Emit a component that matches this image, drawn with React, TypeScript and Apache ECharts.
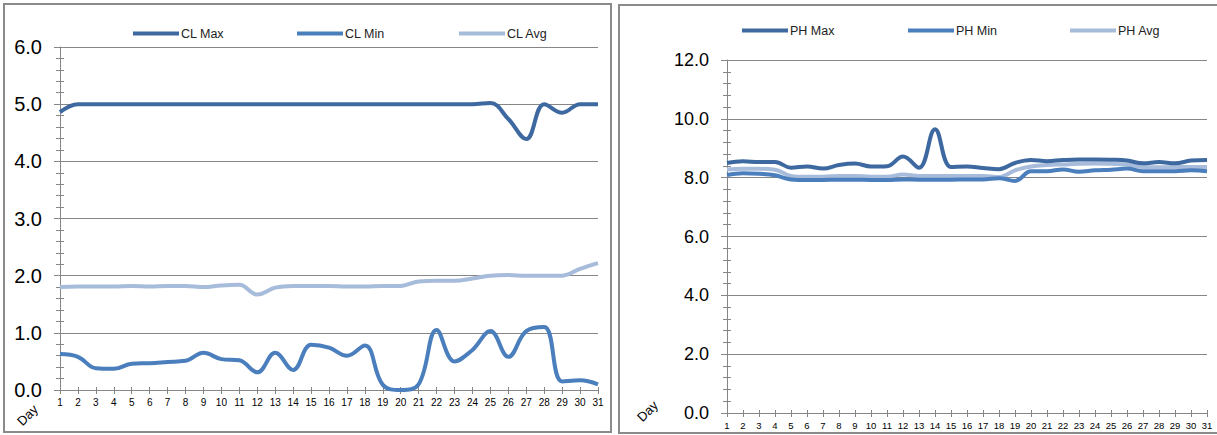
import React, { useEffect, useRef } from "react";
import * as echarts from "echarts";

const days = Array.from({ length: 31 }, (_, i) => String(i + 1));

const clMax = [4.86, 5.0, 5.0, 5.0, 5.0, 5.0, 5.0, 5.0, 5.0, 5.0, 5.0, 5.0, 5.0, 5.0, 5.0, 5.0, 5.0, 5.0, 5.0, 5.0, 5.0, 5.0, 5.0, 5.0, 5.02, 4.74, 4.39, 5.0, 4.85, 5.0, 5.0];
const clMin = [0.63, 0.58, 0.38, 0.37, 0.46, 0.47, 0.49, 0.51, 0.65, 0.54, 0.52, 0.31, 0.65, 0.35, 0.79, 0.74, 0.6, 0.78, 0.09, 0.0, 0.1, 1.05, 0.5, 0.7, 1.03, 0.58, 1.03, 1.1, 0.15, 0.17, 0.1];
const clAvg = [1.8, 1.81, 1.81, 1.81, 1.82, 1.81, 1.82, 1.82, 1.8, 1.83, 1.84, 1.67, 1.79, 1.82, 1.82, 1.82, 1.81, 1.81, 1.82, 1.82, 1.9, 1.91, 1.91, 1.95, 2.0, 2.01, 2.0, 2.0, 2.0, 2.12, 2.22];

const phMax = [8.5, 8.56, 8.53, 8.53, 8.34, 8.38, 8.31, 8.43, 8.48, 8.38, 8.39, 8.72, 8.34, 9.65, 8.36, 8.38, 8.33, 8.29, 8.5, 8.6, 8.56, 8.6, 8.62, 8.62, 8.61, 8.58, 8.49, 8.53, 8.49, 8.58, 8.6];
const phMin = [8.09, 8.15, 8.13, 8.08, 7.94, 7.92, 7.92, 7.93, 7.93, 7.92, 7.92, 7.94, 7.93, 7.93, 7.93, 7.94, 7.94, 7.98, 7.89, 8.22, 8.22, 8.28, 8.2, 8.25, 8.27, 8.31, 8.22, 8.22, 8.22, 8.25, 8.22];
const phAvg = [8.28, 8.3, 8.3, 8.27, 8.06, 8.03, 8.03, 8.06, 8.06, 8.03, 8.03, 8.11, 8.06, 8.06, 8.06, 8.06, 8.06, 8.02, 8.25, 8.38, 8.43, 8.45, 8.47, 8.48, 8.47, 8.45, 8.36, 8.35, 8.36, 8.36, 8.36];

const C_MAX = "#3D69A0";
const C_MIN = "#4A7EBC";
const C_AVG = "#A7BBDA";
const AXIS = "#868686";
const FONT = "Liberation Sans";

function xAxes(grid: number, fontSize: number) {
  return [
    {
      type: "category",
      gridIndex: grid,
      data: days,
      boundaryGap: false,
      axisLine: { lineStyle: { color: AXIS, width: 1 } },
      axisTick: { show: true, length: 4, interval: 0, lineStyle: { color: AXIS } },
      axisLabel: { interval: 0, fontSize, fontFamily: FONT, color: "#000", margin: 7 },
      splitLine: { show: false },
    },
    {
      type: "category",
      gridIndex: grid,
      position: "bottom",
      data: days,
      boundaryGap: false,
      axisLine: { show: false },
      axisTick: { show: true, inside: true, length: 3, interval: 0, lineStyle: { color: AXIS } },
      axisLabel: { show: false },
      splitLine: { show: false },
    },
  ];
}

function yAxes(grid: number, max: number, interval: number, fontSize: number) {
  return [
    {
      type: "value",
      gridIndex: grid,
      min: 0,
      max,
      interval,
      axisLine: { show: true, lineStyle: { color: AXIS, width: 1 } },
      axisTick: { show: true, length: 6, lineStyle: { color: AXIS } },
      minorTick: { show: true, splitNumber: 5, length: 4, lineStyle: { color: AXIS } },
      axisLabel: { fontSize, fontFamily: FONT, color: "#000", margin: 18, formatter: (v: number) => v.toFixed(1) },
      splitLine: { show: true, lineStyle: { color: AXIS, width: 1 } },
    },
    {
      type: "value",
      gridIndex: grid,
      position: "left",
      min: 0,
      max,
      interval,
      axisLine: { show: false },
      axisTick: { show: true, inside: true, length: 4, lineStyle: { color: AXIS } },
      minorTick: { show: true, splitNumber: 5, length: 4, lineStyle: { color: AXIS } },
      axisLabel: { show: false },
      splitLine: { show: false },
    },
  ];
}

function line(name: string, data: number[], color: string, xi: number, yi: number) {
  return {
    name,
    type: "line",
    data,
    xAxisIndex: xi,
    yAxisIndex: yi,
    smooth: 0.4,
    showSymbol: false,
    symbol: "none",
    lineStyle: { color, width: 4 },
    itemStyle: { color },
  };
}

function legend(name: string, left: number, top: number) {
  return {
    data: [name],
    left,
    top,
    icon: "rect",
    itemWidth: 46,
    itemHeight: 4,
    itemGap: 0,
    textStyle: { fontSize: 12.5, fontFamily: FONT, color: "#222", padding: [0, 0, 0, -3] },
    padding: 0,
  };
}

function dayLabel(x: number, y: number) {
  return {
    type: "text",
    x,
    y,
    rotation: Math.PI / 4,
    style: { text: "Day", fontSize: 13, fontFamily: FONT, fill: "#000", align: "left", verticalAlign: "bottom" },
  };
}

export default function App() {
  const ref = useRef<HTMLDivElement>(null);
  useEffect(() => {
    if (!ref.current) return;
    const chart = echarts.init(ref.current, undefined, { renderer: "svg" });
    chart.setOption({
      animation: false,
      backgroundColor: "#fff",
      grid: [
        { left: 60, top: 47, right: 1217 - 598, bottom: 435 - 390 },
        { left: 727, top: 60, right: 1217 - 1207, bottom: 435 - 413 },
      ],
      xAxis: [...xAxes(0, 10), ...xAxes(1, 9.5)],
      yAxis: [...yAxes(0, 6, 1, 20), ...yAxes(1, 12, 2, 18)],
      legend: [
        legend("CL Max", 133, 27),
        legend("CL Min", 297, 27),
        legend("CL Avg", 459, 27),
        legend("PH Max", 742, 24),
        legend("PH Min", 908, 24),
        legend("PH Avg", 1070, 24),
      ],
      series: [
        line("CL Max", clMax, C_MAX, 0, 0),
        line("CL Avg", clAvg, C_AVG, 0, 0),
        line("CL Min", clMin, C_MIN, 0, 0),
        line("PH Avg", phAvg, C_AVG, 2, 2),
        line("PH Min", phMin, C_MIN, 2, 2),
        line("PH Max", phMax, C_MAX, 2, 2),
      ],
      graphic: [
        { type: "rect", shape: { x: 4, y: 4, width: 607, height: 428 }, style: { fill: "none", stroke: "#8a8a8a", lineWidth: 2 }, silent: true },
        { type: "rect", shape: { x: 619, y: 5, width: 610, height: 428 }, style: { fill: "none", stroke: "#8a8a8a", lineWidth: 2 }, silent: true },
        dayLabel(24, 428),
        dayLabel(644, 424),
      ],
    });
    return () => chart.dispose();
  }, []);
  return <div ref={ref} style={{ position: "fixed", left: 0, top: 0, width: 1217, height: 435 }} />;
}
